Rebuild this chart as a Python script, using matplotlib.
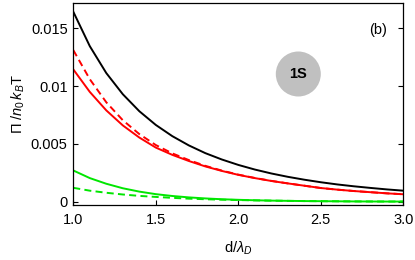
import matplotlib
matplotlib.use("Agg")
import matplotlib.pyplot as plt
from matplotlib.patches import Circle

plt.rcParams['font.family'] = ['Liberation Sans', 'DejaVu Sans']
plt.rcParams['mathtext.fontset'] = 'custom'
plt.rcParams['mathtext.rm'] = 'Liberation Sans'
plt.rcParams['mathtext.it'] = 'Liberation Sans:italic'

x = [1.0, 1.1, 1.2, 1.3, 1.4, 1.5, 1.6, 1.7, 1.8, 1.9, 2.0,
     2.1, 2.2, 2.3, 2.4, 2.5, 2.6, 2.7, 2.8, 2.9, 3.0]

black_total = [0.01644, 0.01346, 0.01113, 0.00930, 0.00783, 0.00664, 0.00567,
               0.00487, 0.00420, 0.00365, 0.00318, 0.00278, 0.00244, 0.00215,
               0.00190, 0.00168, 0.00149, 0.00133, 0.00119, 0.00106, 0.00095]
red_solid = [0.01145, 0.00950, 0.00790, 0.00660, 0.00555, 0.00468, 0.00405,
             0.00352, 0.00305, 0.00266, 0.00232, 0.00204, 0.00179, 0.00158,
             0.00138, 0.00118, 0.00104, 0.00092, 0.00082, 0.00072, 0.00064]
red_dashed = [0.01312, 0.01060, 0.00860, 0.00705, 0.00585, 0.00490, 0.00418,
              0.00360, 0.00310, 0.00269, 0.00234, 0.00205, 0.00180, 0.00158,
              0.00138, 0.00118, 0.00104, 0.00092, 0.00082, 0.00072, 0.00064]
green_solid = [0.00270, 0.00204, 0.00155, 0.00116, 0.00087, 0.00065, 0.00049,
               0.00037, 0.00028, 0.00021, 0.00016, 0.00012, 0.00009, 0.00007,
               0.00005, 0.00004, 0.00003, 0.00002, 0.000015, 0.00001, 0.00001]
green_dashed = [0.00120, 0.00095, 0.00077, 0.00062, 0.00050, 0.00041, 0.00033,
                0.00026, 0.00021, 0.00017, 0.00014, 0.00011, 0.00009, 0.00007,
                0.00005, 0.00004, 0.00003, 0.00002, 0.000015, 0.00001, 0.00001]

xticks = [1.0, 1.5, 2.0, 2.5, 3.0]
xtick_labels = ["1.0", "1.5", "2.0", "2.5", "3.0"]
yticks = [0, 0.005, 0.01, 0.015]
ytick_labels = ["0", "0.005", "0.01", "0.015"]

fig = plt.figure(figsize=(4.15, 2.6), dpi=100)
ax = fig.add_axes([0.1766, 0.2115, 0.7954, 0.7785])

lw = 1.4
green = '#00e600'
ax.plot(x, black_total, color='black', lw=lw)
ax.plot(x, red_solid, color='#ff0000', lw=lw)
ax.plot(x, red_dashed, color='#ff0000', lw=lw, dashes=(3.6, 2.2))
ax.plot(x, green_solid, color=green, lw=lw)
ax.plot(x, green_dashed, color=green, lw=lw, dashes=(3.6, 2.2))

ax.set_xlim(1.0, 3.0)
ax.set_ylim(-0.00029, 0.01723)
ax.set_xticks(xticks)
ax.set_xticklabels(xtick_labels)
ax.set_yticks(yticks)
ax.set_yticklabels(ytick_labels)
ax.tick_params(direction='in', length=3.5, width=0.8, labelsize=10.5,
               right=True, top=False)
ax.tick_params(axis='x', pad=6)
ax.tick_params(axis='y', pad=4)
for s in ax.spines.values():
    s.set_linewidth(0.9)

ax.set_xlabel(r'd/$\lambda_{\it D}$', fontsize=10.5, labelpad=9)
ax.set_ylabel(r'$\Pi$ /$n_0\,k_B$T', fontsize=10.5, labelpad=3)

ax.text(0.923, 0.865, '(b)', transform=ax.transAxes, fontsize=10.5,
        ha='center', va='center')
cx, cy, r = 298.3 / 415, 1 - 74 / 260, 22.5
circle = Circle((cx * 415, cy * 260), r, transform=None,
                facecolor='#c0c0c0', edgecolor='none', zorder=3)
fig.patches.append(circle)
fig.text(cx, cy, '1S', fontsize=10.5, fontweight='bold', ha='center',
         va='center', zorder=4)

fig.savefig('out.png', dpi=100)
